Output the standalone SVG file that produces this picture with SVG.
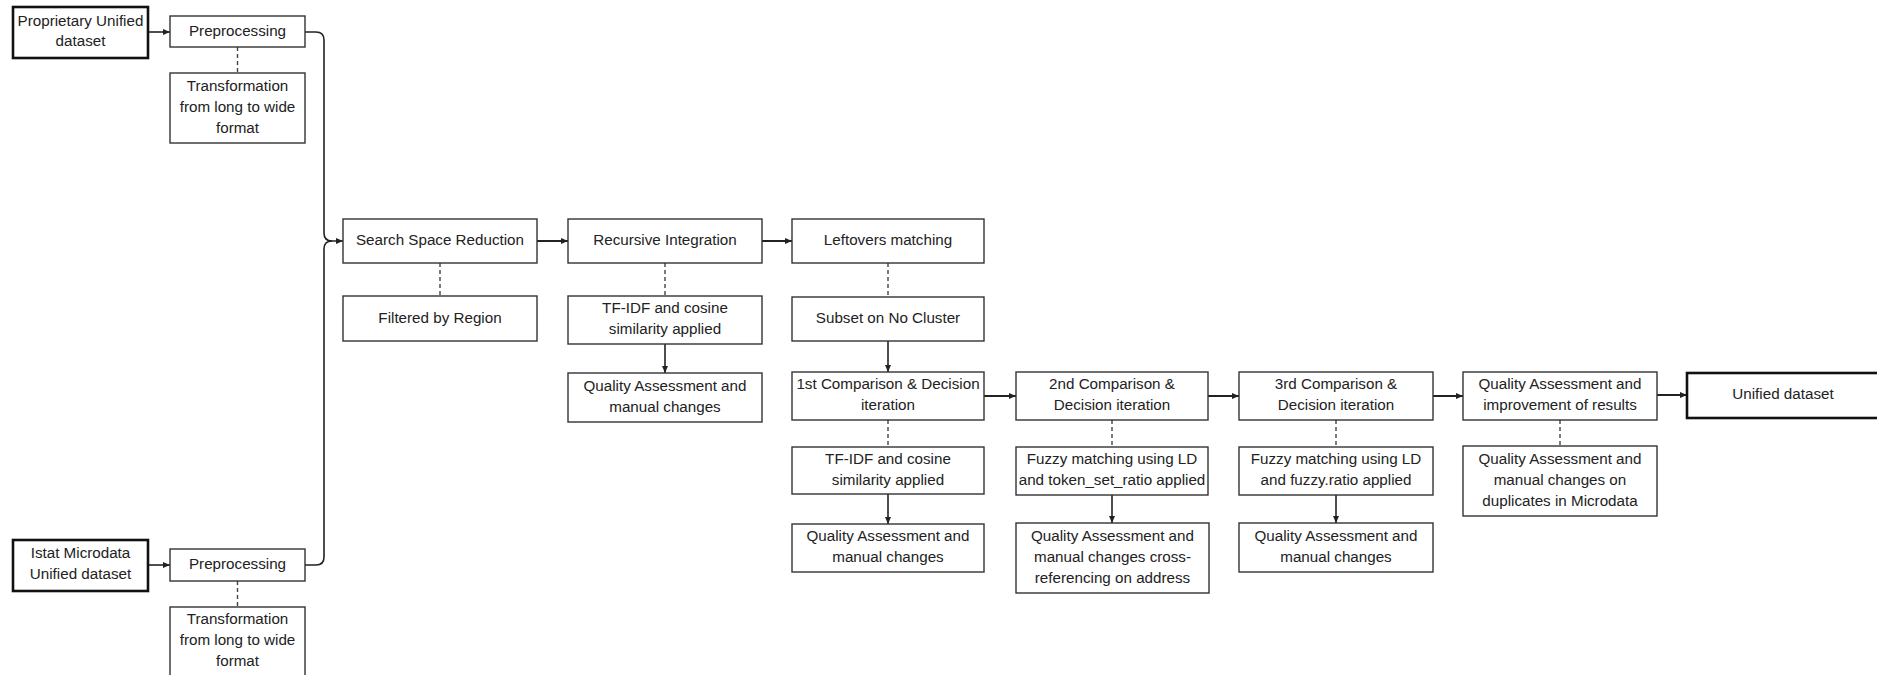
<svg xmlns="http://www.w3.org/2000/svg" width="1877" height="675" viewBox="0 0 1877 675">
  <style>
    .box { fill: #ffffff; stroke: #333333; stroke-width: 1.4; }
    .thick { fill: #ffffff; stroke: #111111; stroke-width: 2.6; }
    text { font-family: "Liberation Sans", Arial, sans-serif; font-size: 15.2px; fill: #222222; text-anchor: middle; }
    .flow { fill: none; stroke: #222222; stroke-width: 1.6; }
    .main { fill: none; stroke: #222222; stroke-width: 2; }
    .dash { fill: none; stroke: #444444; stroke-width: 1.4; stroke-dasharray: 4 3; }
  </style>
  <defs>
    <marker id="arrow" markerUnits="userSpaceOnUse" markerWidth="8" markerHeight="8" refX="7" refY="4" orient="auto">
      <path d="M0,1 L7,4 L0,7 Z" fill="#222222"/>
    </marker>
  </defs>
  <rect width="1877" height="675" fill="#ffffff"/>

  <!-- connectors -->
  <g id="connectors">
    <line class="flow" x1="148" y1="32" x2="170" y2="32" marker-end="url(#arrow)"/>
    <line class="flow" x1="148" y1="565" x2="170" y2="565" marker-end="url(#arrow)"/>
    <path class="flow" d="M305,32 H316 Q324,32 324,40 V233 Q324,241 332,241 H343" marker-end="url(#arrow)"/>
    <path class="flow" d="M305,565 H316 Q324,565 324,557 V249 Q324,241 332,241"/>
    <line class="main" x1="537" y1="241" x2="568" y2="241" marker-end="url(#arrow)"/>
    <line class="main" x1="762" y1="241" x2="792" y2="241" marker-end="url(#arrow)"/>
    <line class="main" x1="984" y1="396" x2="1016" y2="396" marker-end="url(#arrow)"/>
    <line class="main" x1="1208" y1="396" x2="1239" y2="396" marker-end="url(#arrow)"/>
    <line class="main" x1="1433" y1="396" x2="1463" y2="396" marker-end="url(#arrow)"/>
    <line class="main" x1="1657" y1="395" x2="1687" y2="395" marker-end="url(#arrow)"/>
    <line class="flow" x1="665" y1="344" x2="665" y2="373" marker-end="url(#arrow)"/>
    <line class="flow" x1="888" y1="341" x2="888" y2="372" marker-end="url(#arrow)"/>
    <line class="flow" x1="888" y1="494" x2="888" y2="524" marker-end="url(#arrow)"/>
    <line class="flow" x1="1112" y1="495" x2="1112" y2="523" marker-end="url(#arrow)"/>
    <line class="flow" x1="1336" y1="495" x2="1336" y2="523" marker-end="url(#arrow)"/>
    <line class="dash" x1="237.5" y1="47" x2="237.5" y2="73"/>
    <line class="dash" x1="237.5" y1="581" x2="237.5" y2="607"/>
    <line class="dash" x1="440" y1="263" x2="440" y2="296"/>
    <line class="dash" x1="665" y1="263" x2="665" y2="296"/>
    <line class="dash" x1="888" y1="263" x2="888" y2="297"/>
    <line class="dash" x1="888" y1="420" x2="888" y2="447"/>
    <line class="dash" x1="1112" y1="420" x2="1112" y2="447"/>
    <line class="dash" x1="1336" y1="420" x2="1336" y2="447"/>
    <line class="dash" x1="1560" y1="420" x2="1560" y2="446"/>
  </g>

  <!-- input datasets and preprocessing -->
  <g id="proprietary-dataset">
    <rect class="thick" x="13" y="7" width="135" height="51"/>
    <text x="80.5" y="26">Proprietary Unified</text>
    <text x="80.5" y="46">dataset</text>
  </g>
  <g id="preprocessing-1">
    <rect class="box" x="170" y="16" width="135" height="31"/>
    <text x="237.5" y="35.5">Preprocessing</text>
  </g>
  <g id="transformation-1">
    <rect class="box" x="170" y="73" width="135" height="70"/>
    <text x="237.5" y="90.5">Transformation</text>
    <text x="237.5" y="111.5">from long to wide</text>
    <text x="237.5" y="132.5">format</text>
  </g>
  <g id="istat-dataset">
    <rect class="thick" x="13" y="540" width="135" height="51"/>
    <text x="80.5" y="558">Istat Microdata</text>
    <text x="80.5" y="579">Unified dataset</text>
  </g>
  <g id="preprocessing-2">
    <rect class="box" x="170" y="549" width="135" height="32"/>
    <text x="237.5" y="569">Preprocessing</text>
  </g>
  <g id="transformation-2">
    <rect class="box" x="170" y="607" width="135" height="72"/>
    <text x="237.5" y="624">Transformation</text>
    <text x="237.5" y="645">from long to wide</text>
    <text x="237.5" y="666">format</text>
  </g>

  <!-- search space reduction -->
  <g id="search-space-reduction">
    <rect class="box" x="343" y="219" width="194" height="44"/>
    <text x="440" y="245">Search Space Reduction</text>
  </g>
  <g id="filtered-by-region">
    <rect class="box" x="343" y="296" width="194" height="45"/>
    <text x="440" y="322.5">Filtered by Region</text>
  </g>

  <!-- recursive integration -->
  <g id="recursive-integration">
    <rect class="box" x="568" y="219" width="194" height="44"/>
    <text x="665" y="245">Recursive Integration</text>
  </g>
  <g id="tfidf-1">
    <rect class="box" x="568" y="296" width="194" height="48"/>
    <text x="665" y="313">TF-IDF and cosine</text>
    <text x="665" y="334">similarity applied</text>
  </g>
  <g id="quality-1">
    <rect class="box" x="568" y="373" width="194" height="49"/>
    <text x="665" y="390.5">Quality Assessment and</text>
    <text x="665" y="411.5">manual changes</text>
  </g>

  <!-- leftovers matching -->
  <g id="leftovers-matching">
    <rect class="box" x="792" y="219" width="192" height="44"/>
    <text x="888" y="245">Leftovers matching</text>
  </g>
  <g id="subset-no-cluster">
    <rect class="box" x="792" y="297" width="192" height="44"/>
    <text x="888" y="323">Subset on No Cluster</text>
  </g>
  <g id="comparison-1">
    <rect class="box" x="792" y="372" width="192" height="48"/>
    <text x="888" y="389">1st Comparison &amp; Decision</text>
    <text x="888" y="410">iteration</text>
  </g>
  <g id="tfidf-2">
    <rect class="box" x="792" y="447" width="192" height="47"/>
    <text x="888" y="464">TF-IDF and cosine</text>
    <text x="888" y="485">similarity applied</text>
  </g>
  <g id="quality-2">
    <rect class="box" x="792" y="524" width="192" height="48"/>
    <text x="888" y="541">Quality Assessment and</text>
    <text x="888" y="562">manual changes</text>
  </g>

  <!-- second iteration -->
  <g id="comparison-2">
    <rect class="box" x="1016" y="372" width="192" height="48"/>
    <text x="1112" y="389">2nd Comparison &amp;</text>
    <text x="1112" y="410">Decision iteration</text>
  </g>
  <g id="fuzzy-1">
    <rect class="box" x="1016" y="447" width="192" height="48"/>
    <text x="1112" y="464">Fuzzy matching using LD</text>
    <text x="1112" y="485">and token_set_ratio applied</text>
  </g>
  <g id="quality-3">
    <rect class="box" x="1016" y="523" width="193" height="70"/>
    <text x="1112.5" y="541">Quality Assessment and</text>
    <text x="1112.5" y="562">manual changes cross-</text>
    <text x="1112.5" y="583">referencing on address</text>
  </g>

  <!-- third iteration -->
  <g id="comparison-3">
    <rect class="box" x="1239" y="372" width="194" height="48"/>
    <text x="1336" y="389">3rd Comparison &amp;</text>
    <text x="1336" y="410">Decision iteration</text>
  </g>
  <g id="fuzzy-2">
    <rect class="box" x="1239" y="447" width="194" height="48"/>
    <text x="1336" y="464">Fuzzy matching using LD</text>
    <text x="1336" y="485">and fuzzy.ratio applied</text>
  </g>
  <g id="quality-4">
    <rect class="box" x="1239" y="523" width="194" height="49"/>
    <text x="1336" y="540.5">Quality Assessment and</text>
    <text x="1336" y="561.5">manual changes</text>
  </g>

  <!-- final checks and output -->
  <g id="quality-improvement">
    <rect class="box" x="1463" y="372" width="194" height="48"/>
    <text x="1560" y="389">Quality Assessment and</text>
    <text x="1560" y="410">improvement of results</text>
  </g>
  <g id="quality-duplicates">
    <rect class="box" x="1463" y="446" width="194" height="70"/>
    <text x="1560" y="463.5">Quality Assessment and</text>
    <text x="1560" y="484.5">manual changes on</text>
    <text x="1560" y="505.5">duplicates in Microdata</text>
  </g>
  <g id="unified-dataset">
    <rect class="thick" x="1687" y="373" width="200" height="45"/>
    <text x="1783" y="399">Unified dataset</text>
  </g>
</svg>
